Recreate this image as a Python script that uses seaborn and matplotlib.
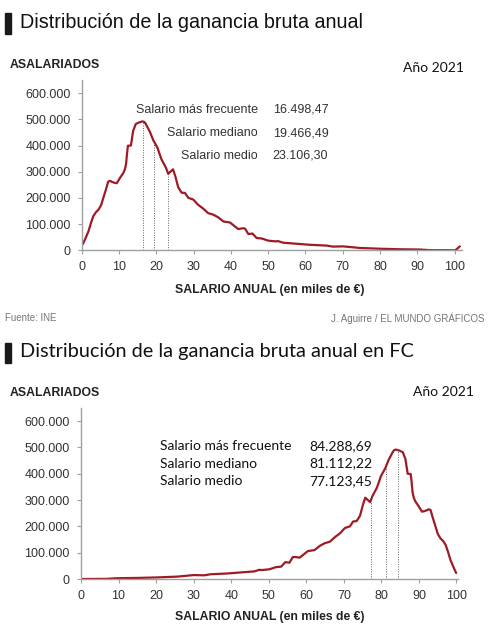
import numpy as np
import pandas as pd
import matplotlib
matplotlib.use("Agg")
import matplotlib.pyplot as plt
import seaborn as sns
from matplotlib.patches import Rectangle

# ---------------- DATA ----------------
# Chart 1: all employees (salary in thousands of EUR, employees in thousands)
salario_1 = [0.3, 1.0, 1.8, 2.5, 3.1, 3.8, 4.5, 5.2, 5.8, 6.5, 7.1, 7.6, 8.0, 8.7, 9.4,
             10.3, 11.2, 11.6, 11.9, 12.2, 12.4, 13.2, 13.8, 14.5, 15.4, 16.3, 16.8, 17.2,
             18.3, 19.2, 20.3, 21.4, 22.6, 23.2, 23.8, 24.5, 25.1, 25.9, 26.8, 27.7, 28.6,
             29.9, 31.2, 32.6, 33.9, 35.3, 36.6, 38.0, 39.8, 41.0, 42.0, 43.2, 43.8, 44.7,
             45.8, 46.9, 48.3, 50.0, 52.0, 52.7, 54.0, 56.7, 61.2, 65.7, 67.4, 70.1, 74.6,
             80.0, 85.3, 90.7, 93.4, 100.0, 100.5, 101.4]
asalariados_1 = [23, 45, 72, 105, 130, 145, 155, 172, 200, 232, 262, 265, 262, 258, 256,
                 277, 296, 310, 330, 375, 399, 400, 456, 482, 488, 492, 490, 482,
                 452, 420, 392, 347, 315, 292, 300, 309, 283, 240, 220, 219, 200,
                 194, 174, 159, 142, 136, 126, 110, 106, 92, 81, 84, 83, 62,
                 64, 47, 45, 37, 34, 35, 29, 26, 21, 18, 14, 15, 9,
                 6, 4, 3, 0.5, 0, 3, 15]

# Chart 2: FC
salario_2 = [0.0, 0.2, 6.8, 9.5, 14.9, 20.2, 25.6, 30.1, 32.8, 34.5, 39.0, 43.5, 46.2, 47.5,
             48.2, 50.2, 51.9, 53.3, 54.4, 55.5, 56.4, 57.0, 58.2, 59.2, 60.4, 62.2, 63.6,
             64.9, 66.3, 67.6, 69.0, 70.3, 71.6, 72.5, 73.4, 74.3, 75.1, 75.7, 76.4, 77.0,
             77.6, 78.8, 79.9, 81.0, 81.9, 83.0, 83.4, 83.9, 84.8, 85.7, 86.4, 87.0, 87.8,
             88.0, 88.3, 88.6, 89.0, 89.9, 90.8, 91.5, 92.2, 92.6, 93.1, 93.7, 94.4, 95.0,
             95.7, 96.4, 97.1, 97.7, 98.4, 99.2, 99.9]
asalariados_2 = [0, 0, 0.5, 3, 4, 6, 9, 15, 14, 18, 21, 26, 29, 35,
                 34, 37, 45, 47, 64, 62, 83, 84, 81, 92, 106, 110, 126,
                 136, 142, 159, 174, 194, 200, 219, 220, 240, 283, 309, 300, 292,
                 315, 347, 392, 420, 452, 482, 490, 492, 488, 482, 456, 400, 399,
                 375, 330, 310, 296, 277, 256, 258, 262, 265, 262, 232, 200, 172,
                 155, 145, 130, 105, 72, 45, 23]

stat_labels = ["Salario más frecuente", "Salario mediano", "Salario medio"]
stat_values_1 = [16.49847, 19.46649, 23.10630]
stat_texts_1 = ["16.498,47", "19.466,49", "23.106,30"]
stat_values_2 = [84.28869, 81.11222, 77.12345]
stat_texts_2 = ["84.288,69", "81.112,22", "77.123,45"]

y_ticks = [0, 100, 200, 300, 400, 500, 600]
y_tick_labels = ["0", "100.000", "200.000", "300.000", "400.000", "500.000", "600.000"]
x_ticks = [0, 10, 20, 30, 40, 50, 60, 70, 80, 90, 100]

# ---------------- STYLE ----------------
sns.set_style("ticks")
plt.rcParams['font.family'] = ['Liberation Sans', 'DejaVu Sans']

RED = "#9E1B25"
AXC = "#A0A0A0"
TXT = "#333333"

W, H = 498, 640
fig = plt.figure(figsize=(W / 100, H / 100), dpi=100)


def fx(px):
    return px / W


def fy(py):
    return 1 - py / H


def style_axes(ax, xmax):
    ax.set_xlim(0, xmax)
    ax.set_ylim(0, 650)
    ax.set_yticks(y_ticks)
    ax.set_yticklabels(y_tick_labels)
    ax.set_xticks(x_ticks)
    ax.set_xticklabels([str(t) for t in x_ticks])
    for s in ["top", "right"]:
        ax.spines[s].set_visible(False)
    for s in ["left", "bottom"]:
        ax.spines[s].set_color(AXC)
        ax.spines[s].set_linewidth(1.0)
    ax.tick_params(axis="both", colors=AXC, labelcolor=TXT, labelsize=9,
                   length=3, width=0.8, direction="out")
    ax.tick_params(axis="y", pad=5)
    ax.tick_params(axis="x", pad=5)
    ax.set_xlabel("")
    ax.set_ylabel("")


# ---------------- CHART 1 ----------------
ax1 = fig.add_axes([fx(81.7), fy(250.3), fx(462 - 81.7), (250.3 - 80) / H])
df1 = pd.DataFrame({"salario": salario_1, "asalariados": asalariados_1})
sns.lineplot(data=df1, x="salario", y="asalariados", ax=ax1, color=RED, linewidth=1.6)
style_axes(ax1, 102)
for v in stat_values_1:
    top = np.interp(v, salario_1, asalariados_1)
    ax1.vlines(v, 0, top, colors="#666666", linestyles=(0, (1, 1.5)), linewidth=0.7, zorder=1)

fig.patches.append(Rectangle((fx(4.5), fy(34)), fx(6.5), 21 / H, transform=fig.transFigure,
                             color="#1a1a1a"))
fig.text(fx(20), fy(22), "Distribución de la ganancia bruta anual", fontsize=14.2,
         color="#111111", va="center", ha="left")
fig.text(fx(10), fy(65.5), "ASALARIADOS", fontsize=8.8, fontweight="bold", color="#222222",
         va="center", ha="left")
fig.text(fx(403), fy(68), "Año 2021", fontsize=10, family=["Lato", "DejaVu Sans"],
         color="#111111", va="center", ha="left")
for i, (lab, txt) in enumerate(zip(stat_labels, stat_texts_1)):
    yy = [110, 133, 155.7][i]
    fig.text(fx(257.7), fy(yy), lab, fontsize=9, color=TXT, ha="right", va="center")
    fig.text(fx(272.7), fy(yy), txt, fontsize=9, color=TXT, ha="left", va="center")
fig.text(fx(270), fy(290), "SALARIO ANUAL (en miles de €)", fontsize=8.8, fontweight="bold",
         color="#222222", ha="center", va="center")
fig.text(fx(5), fy(318.3), "Fuente: INE", fontsize=7, color="#777777", ha="left", va="center")
fig.text(fx(484), fy(318.3), "J. Aguirre / EL MUNDO GRÁFICOS", fontsize=7, color="#777777",
         ha="right", va="center")

# ---------------- CHART 2 ----------------
ax2 = fig.add_axes([fx(81), fy(579), fx(458 - 81), (579 - 408) / H])
df2 = pd.DataFrame({"salario": salario_2, "asalariados": asalariados_2})
sns.lineplot(data=df2, x="salario", y="asalariados", ax=ax2, color=RED, linewidth=1.6)
style_axes(ax2, 100.4)
for v in stat_values_2:
    top = np.interp(v, salario_2, asalariados_2)
    ax2.vlines(v, 0, top, colors="#666666", linestyles=(0, (1, 1.5)), linewidth=0.7, zorder=1)

fig.patches.append(Rectangle((fx(4.5), fy(363)), fx(6.5), 20 / H, transform=fig.transFigure,
                             color="#1a1a1a"))
fig.text(fx(20), fy(352), "Distribución de la ganancia bruta anual en FC", fontsize=14.3,
         family=["Lato", "DejaVu Sans"], color="#111111", va="center", ha="left")
fig.text(fx(10), fy(393), "ASALARIADOS", fontsize=8.8, fontweight="bold", color="#222222",
         va="center", ha="left")
fig.text(fx(413), fy(392), "Año 2021", fontsize=10, family=["Lato", "DejaVu Sans"],
         color="#111111", va="center", ha="left")
for i, (lab, txt) in enumerate(zip(stat_labels, stat_texts_2)):
    yy = [446, 463.5, 481][i]
    fig.text(fx(160), fy(yy), lab, fontsize=10, family=["Lato", "DejaVu Sans"],
             color="#111111", ha="left", va="center")
    fig.text(fx(309), fy(yy), txt, fontsize=10, family=["Lato", "DejaVu Sans"],
             color="#111111", ha="left", va="center")
fig.text(fx(270), fy(616.7), "SALARIO ANUAL (en miles de €)", fontsize=8.8, fontweight="bold",
         color="#222222", ha="center", va="center")

fig.savefig("out.png", dpi=100, facecolor="white")
